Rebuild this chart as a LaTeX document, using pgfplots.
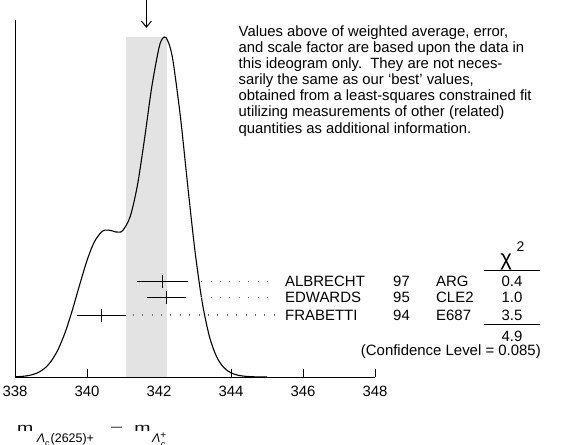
\documentclass[border=0pt]{standalone}
\usepackage{fontspec}
\setmainfont{Liberation Sans}
\usepackage{pgfplots}
\pgfplotsset{compat=1.18}
\usetikzlibrary{arrows.meta}
\begin{document}
\begin{tikzpicture}
\path[use as bounding box] (-15bp,-68bp) rectangle (564bp,377bp);
\begin{axis}[
  at={(0,0)}, anchor=south west,
  scale only axis, width=360bp, height=357bp,
  xmin=338, xmax=348, ymin=0, ymax=5.777,
  axis x line*=bottom, axis y line*=left,
  axis line style={line width=1bp, black},
  ytick=\empty,
  xtick={338,340,...,348},
  tick align=inside,
  major tick length=8bp,
  xtick style={line width=1bp, black},
  xticklabel style={font=\fontsize{15}{15}\selectfont, yshift=-6bp},
  /pgf/number format/assume math mode=true,
  clip=false,
]
% weighted average band (341.65 +- 0.57)
\addplot[fill=black!11, draw=none] coordinates {(341.08,0) (341.08,5.50) (342.22,5.50) (342.22,0)} -- cycle;
% ideogram curve
\addplot[black, line width=1.1bp, smooth] coordinates {
(338.0,0.004) (338.2,0.010) (338.4,0.026) (338.6,0.061) (338.8,0.129)
(339.0,0.252) (339.2,0.449) (339.4,0.733) (339.6,1.095) (339.8,1.500)
(340.0,1.885) (340.2,2.183) (340.4,2.346) (340.5,2.376) (340.6,2.378)
(340.7,2.364) (340.8,2.347) (340.9,2.344) (341.0,2.374) (341.2,2.596)
(341.4,3.101) (341.6,3.861) (341.8,4.698) (342.0,5.329) (342.1,5.481)
(342.15,5.502) (342.2,5.489) (342.3,5.351) (342.4,5.074) (342.6,4.186)
(342.8,3.084) (343.0,2.035) (343.2,1.212) (343.4,0.657) (343.6,0.328)
(343.8,0.153) (344.0,0.067) (344.2,0.028) (344.4,0.011) (344.6,0.004)
(344.8,0.001) (345.0,0.000)
};
% measurements
\addplot[black, line width=1bp, only marks, mark=|, mark size=6.5bp,
  error bars/.cd, x dir=both, x explicit, error mark=none,
  error bar style={line width=1bp, black}]
  table[x=x, y=y, x error=ex] {
x y ex
342.1 1.55 0.71
342.2 1.283 0.54
340.4 1.003 0.67
};
% leader dots
\draw[black!55, line width=1.1bp, dash pattern=on 1.1bp off 8.3bp] (axis cs:343.17,1.55) -- (axis cs:345.2,1.55);
\draw[black!55, line width=1.1bp, dash pattern=on 1.1bp off 8.3bp] (axis cs:343.17,1.283) -- (axis cs:345.2,1.283);
\draw[black!55, line width=1.1bp, dash pattern=on 1.1bp off 8.3bp] (axis cs:341.27,1.003) -- (axis cs:345.2,1.003);
% arrow at weighted average
\draw[line width=1bp, -{Straight Barb[length=6bp, width=10bp]}] (axis cs:341.65,6.12) -- (axis cs:341.65,5.65);
\end{axis}
\begin{scope}[every node/.style={inner sep=0pt}]
\foreach \t [count=\i from 0] in {
  {Values above of weighted average, error,},
  {and scale factor are based upon the data in},
  {this ideogram only.\ \ They are not neces-},
  {sarily the same as our `best' values,},
  {obtained from a least-squares constrained fit},
  {utilizing measurements of other (related)},
  {quantities as additional information.}}
  \node[anchor=base west, font=\fontsize{14.9}{16}\selectfont] at (223.5bp,{340.5bp-\i*16.1bp}) {\t};
\begin{scope}[every node/.append style={font=\fontsize{15}{15}\selectfont}]
\node[anchor=west] at (270bp,96bp) {ALBRECHT};
\node[anchor=west] at (378bp,96bp) {97};
\node[anchor=west] at (421bp,96bp) {ARG};
\node at (497bp,96bp) {0.4};
\node[anchor=west] at (270bp,79.3bp) {EDWARDS};
\node[anchor=west] at (378bp,79.3bp) {95};
\node[anchor=west] at (421bp,79.3bp) {CLE2};
\node at (497bp,79.3bp) {1.0};
\node[anchor=west] at (270bp,62bp) {FRABETTI};
\node[anchor=west] at (378bp,62bp) {94};
\node[anchor=west] at (421bp,62bp) {E687};
\node at (497bp,62bp) {3.5};
\node at (497bp,40.8bp) {4.9};
\node[anchor=east] at (526bp,25.5bp) {(Confidence Level = 0.085)};
\end{scope}
\node[font=\fontsize{22}{22}\selectfont] at (491bp,115bp) {χ};
\node[font=\fontsize{14}{14}\selectfont] at (505.5bp,130bp) {2};
\draw[line width=1bp] (469.3bp,106bp) -- (525bp,106bp);
\draw[line width=1bp] (469.3bp,52.7bp) -- (525bp,52.7bp);
\node[anchor=base west, font=\fontsize{12.5}{12.5}\selectfont] at (2bp,-54.7bp)
  {{\fontsize{11.5}{11.5}\selectfont\scalebox{1.7}[1]{m}}\hspace{3.5bp}\raisebox{-10.3bp}{\textit{Λ}\raisebox{-4bp}{\fontsize{9}{9}\selectfont c}\hspace{1bp}(2625)+}\hspace{16bp}\raisebox{0bp}{\fontsize{11.5}{11.5}\selectfont\scalebox{2}[1]{−}}\hspace{11bp}{\fontsize{11.5}{11.5}\selectfont\scalebox{1.7}[1]{m}}\hspace{1.5bp}\raisebox{-10.3bp}{\textit{Λ}\hspace{0.5bp}\raisebox{-5bp}{\fontsize{9}{9}\selectfont c}\hspace{-5bp}\raisebox{4bp}{\fontsize{10}{10}\selectfont +}}};
\end{scope}
\end{tikzpicture}
\end{document}
